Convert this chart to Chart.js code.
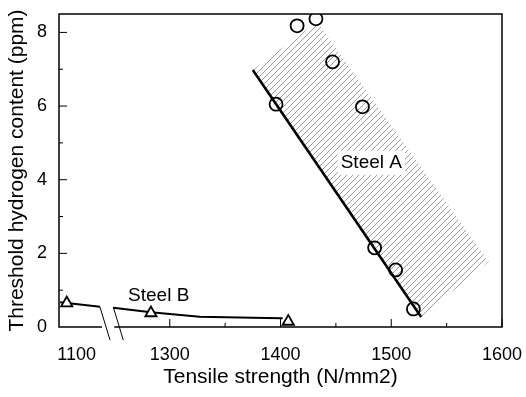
<!DOCTYPE html>
<html lang="en">
<head>
<meta charset="UTF-8">
<title>Threshold hydrogen content vs tensile strength</title>
<script src="https://cdn.jsdelivr.net/npm/chart.js"></script>
<style>
    html, body { margin: 0; padding: 0; background: #fff; }
</style>
</head>
<body>
<canvas id="myChart" width="526" height="397"></canvas>
<script>
    // Steel A - measured points
    const steelAStrength = [1396, 1415, 1432, 1447, 1474, 1485, 1504, 1520];
    const steelAHydrogen = [6.05, 8.18, 8.37, 7.2, 5.98, 2.15, 1.55, 0.49];
    // Steel A - fitted line
    const steelAFitStrength = [1375, 1527];
    const steelAFitHydrogen = [6.98, 0.27];
    // Steel A - scatter band (hatched)
    const bandStrength = [1375, 1433, 1588, 1527, 1375];
    const bandHydrogen = [6.98, 8.29, 1.77, 0.27, 6.98];

    // Steel B - measured points (the 1100 one sits left of the axis break)
    const steelBStrength = [1091, 1283, 1407];
    const steelBHydrogen = [0.65, 0.38, 0.15];
    // Steel B - fitted curve, null = gap at the break
    const steelBFitStrength = [1085, 1121, null, 1249, 1283, 1327, 1387, 1402];
    const steelBFitHydrogen = [0.67, 0.55, null, 0.52, 0.4, 0.28, 0.245, 0.24];

    const xTickValues = [1100, 1300, 1400, 1500, 1600];
    const xMinorValues = [1350, 1450, 1550];
    const yTickValues = [0, 2, 4, 6, 8];
    const yMinorValues = [1, 3, 5, 7];

    // broken axis: everything below 1200 is moved right so 1100 lands near the left edge
    const BREAK_SHIFT = 116;
    const toAxis = v => (v === null ? null : (v < 1200 ? v + BREAK_SHIFT : v));

    const pts = (xs, ys) => xs.map((x, i) => ({ x: toAxis(x), y: ys[i] }));

    const FONT = '"Liberation Sans", Arial, Helvetica, sans-serif';

    function makeHatch() {
        const c = document.createElement('canvas');
        c.width = 6; c.height = 6;
        const g = c.getContext('2d');
        g.strokeStyle = '#909090';
        g.lineWidth = 0.9;
        for (const o of [-6, 0, 6]) {
            g.beginPath();
            g.moveTo(o - 1, 7);
            g.lineTo(o + 7, -1);
            g.stroke();
        }
        return g.createPattern(c, 'repeat');
    }

    const noPad = s => { s.paddingLeft = 0; s.paddingRight = 0; s.paddingTop = 0; s.paddingBottom = 0; };

    const decor = {
        id: 'decor',
        afterDatasetsDraw(chart) {
            const ctx = chart.ctx;
            const a = chart.chartArea;
            const xs = chart.scales.x, ys = chart.scales.y;
            ctx.save();

            // curve labels
            ctx.font = '19px ' + FONT;
            ctx.textAlign = 'center';
            ctx.textBaseline = 'middle';
            const ax = xs.getPixelForValue(1482), ay = ys.getPixelForValue(4.46);
            const w = ctx.measureText('Steel A').width;
            ctx.fillStyle = '#fff';
            ctx.fillRect(ax - w / 2 - 3, ay - 12, w + 6, 24);
            ctx.fillStyle = '#000';
            ctx.fillText('Steel A', ax, ay);
            ctx.fillText('Steel B', xs.getPixelForValue(1290), ys.getPixelForValue(0.85));

            // frame
            ctx.strokeStyle = '#000';
            ctx.lineWidth = 1.5;
            ctx.strokeRect(a.left, a.top, a.right - a.left, a.bottom - a.top);

            // inward ticks
            ctx.lineWidth = 1;
            ctx.beginPath();
            xTickValues.slice(1).forEach(v => {
                const p = xs.getPixelForValue(v);
                ctx.moveTo(p, a.bottom); ctx.lineTo(p, a.bottom - 8);
            });
            xMinorValues.forEach(v => {
                const p = xs.getPixelForValue(v);
                ctx.moveTo(p, a.bottom); ctx.lineTo(p, a.bottom - 4);
            });
            yTickValues.slice(1).forEach(v => {
                const p = ys.getPixelForValue(v);
                ctx.moveTo(a.left, p); ctx.lineTo(a.left + 8, p);
            });
            yMinorValues.forEach(v => {
                const p = ys.getPixelForValue(v);
                ctx.moveTo(a.left, p); ctx.lineTo(a.left + 4, p);
            });
            ctx.stroke();

            // axis break marks
            const b1 = xs.getPixelForValue(1237), b2 = xs.getPixelForValue(1249);
            ctx.fillStyle = '#fff';
            ctx.fillRect(b1 + 2, a.bottom - 2, b2 - b1 - 1, 5);
            ctx.lineWidth = 1;
            ctx.beginPath();
            [b1, b2].forEach(p => {
                ctx.moveTo(p, a.bottom - 20);
                ctx.lineTo(p + 10, a.bottom + 13);
            });
            ctx.stroke();
            ctx.restore();
        }
    };

    const config = {
        type: 'scatter',
        data: {
            datasets: [
                {
                    label: 'Steel A',
                    data: pts(steelAStrength, steelAHydrogen),
                    showLine: false,
                    pointStyle: 'circle',
                    pointRadius: 6.5,
                    borderColor: '#000',
                    backgroundColor: 'rgba(0,0,0,0)',
                    borderWidth: 1.8,
                    order: 1
                },
                {
                    label: 'Steel A fit',
                    data: pts(steelAFitStrength, steelAFitHydrogen),
                    showLine: true,
                    pointRadius: 0,
                    borderColor: '#000',
                    borderWidth: 2.6,
                    order: 2
                },
                {
                    label: 'Steel B',
                    data: pts(steelBStrength, steelBHydrogen),
                    showLine: false,
                    pointStyle: 'triangle',
                    pointRadius: 6.5,
                    borderColor: '#000',
                    backgroundColor: '#fff',
                    borderWidth: 1.8,
                    order: 1
                },
                {
                    label: 'Steel B fit',
                    data: pts(steelBFitStrength, steelBFitHydrogen),
                    showLine: true,
                    spanGaps: false,
                    pointRadius: 0,
                    borderColor: '#000',
                    borderWidth: 2,
                    order: 2
                },
                {
                    label: 'Steel A band',
                    data: pts(bandStrength, bandHydrogen),
                    showLine: true,
                    fill: 'shape',
                    pointRadius: 0,
                    borderWidth: 0,
                    borderColor: 'rgba(0,0,0,0)',
                    backgroundColor: makeHatch(),
                    order: 5
                }
            ]
        },
        options: {
            responsive: false,
            animation: false,
            layout: { padding: { top: 14, right: 24, left: 0, bottom: 0 } },
            plugins: {
                legend: { display: false },
                tooltip: { enabled: false }
            },
            scales: {
                x: {
                    type: 'linear',
                    min: 1200,
                    max: 1600,
                    grid: { display: false, drawTicks: false },
                    border: { display: false },
                    afterBuildTicks: s => { s.ticks = xTickValues.map(v => ({ value: toAxis(v) })); },
                    afterFit: s => { s.height = 70; noPad(s); },
                    ticks: {
                        padding: 17,
                        color: '#000',
                        font: { family: FONT, size: 18 },
                        callback: (v, i) => xTickValues[i]
                    },
                    title: {
                        display: true,
                        text: 'Tensile strength (N/mm2)',
                        color: '#000',
                        font: { family: FONT, size: 21 },
                        padding: { top: 0, bottom: 7 }
                    }
                },
                y: {
                    min: 0,
                    max: 8.5,
                    grid: { display: false, drawTicks: false },
                    border: { display: false },
                    afterBuildTicks: s => { s.ticks = yTickValues.map(v => ({ value: v })); },
                    afterFit: s => { s.width = 59; noPad(s); },
                    ticks: {
                        padding: 12,
                        color: '#000',
                        font: { family: FONT, size: 18 }
                    },
                    title: {
                        display: true,
                        text: 'Threshold hydrogen content (ppm)',
                        color: '#000',
                        font: { family: FONT, size: 21 },
                        padding: { top: 5, bottom: 0 }
                    }
                }
            }
        },
        plugins: [decor]
    };

    const myChart = new Chart(document.getElementById('myChart'), config);
</script>
</body>
</html>
